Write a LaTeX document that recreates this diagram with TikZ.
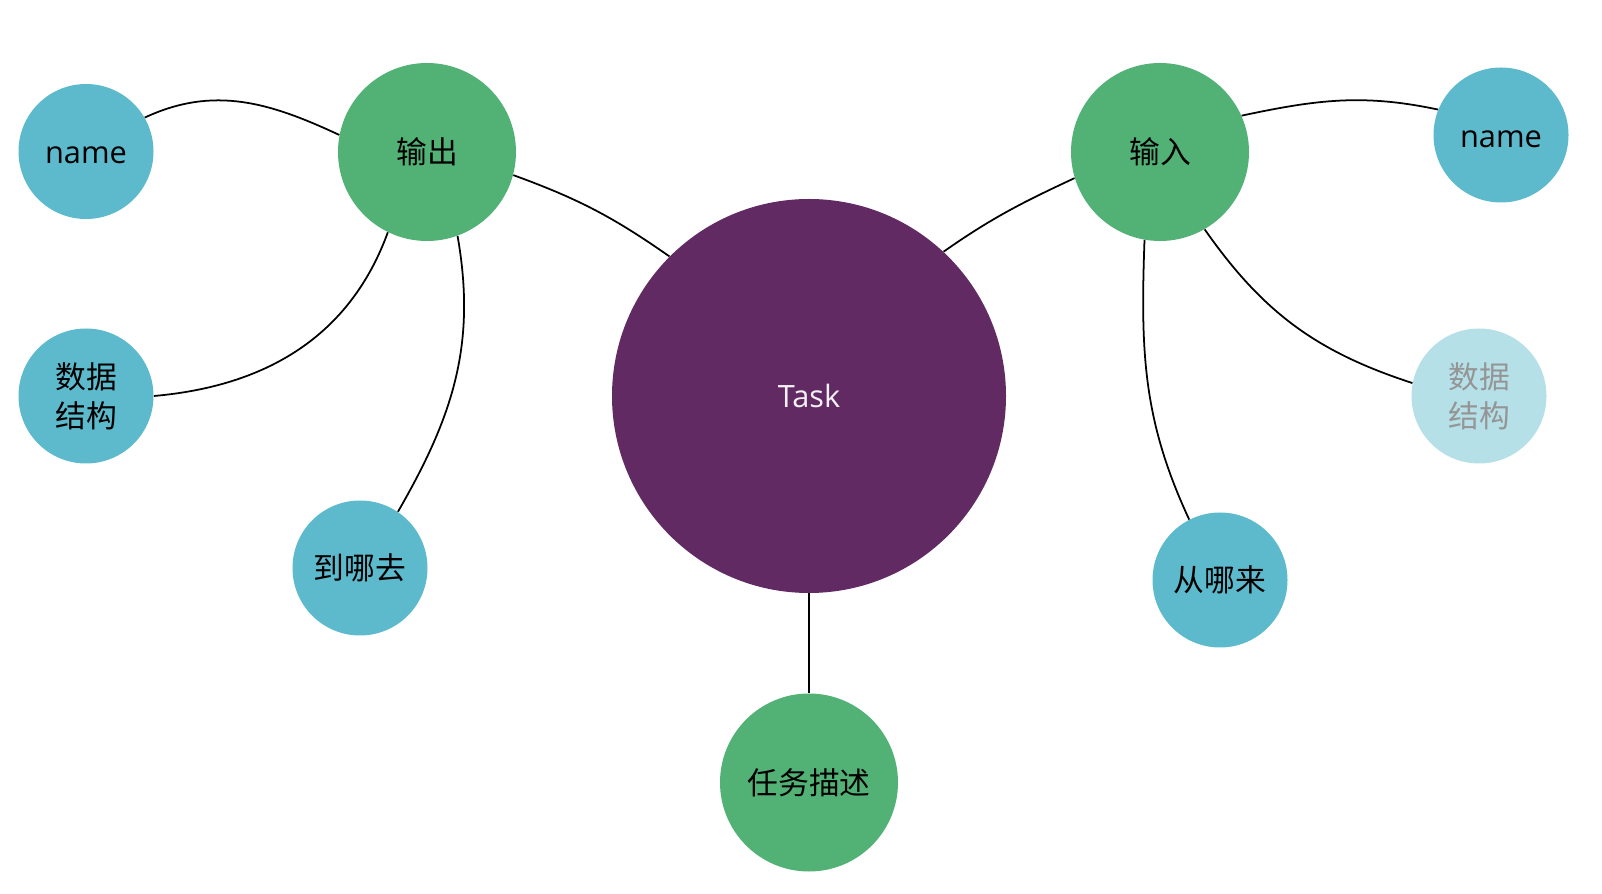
\documentclass[tikz,border=0pt]{standalone}
\usepackage{fontspec}
\setmainfont{Open Sans}
\newfontfamily\cjk{Noto Sans CJK SC}
\usepackage{tikz}
\definecolor{taskP}{HTML}{612A62}
\definecolor{greenN}{HTML}{52B175}
\definecolor{tealN}{HTML}{5CBACC}
\definecolor{tealL}{HTML}{B5E0E7}
\definecolor{greyT}{HTML}{959595}

\begin{document}
\begin{tikzpicture}[
  big/.style={circle, fill=taskP, minimum size=7.88cm, inner sep=0pt, text=white!93!taskP, font=\fontsize{17.5}{22}\selectfont},
  mid/.style={circle, fill=greenN, minimum size=3.56cm, inner sep=0pt, font=\cjk\fontsize{17.5}{22}\selectfont},
  leaf/.style={circle, fill=tealN, minimum size=2.7cm, inner sep=0pt, align=center, font=\cjk\fontsize{17.5}{22}\selectfont},
  nm/.style={leaf, font=\fontsize{17.5}{22}\selectfont, text height=14pt, text depth=0pt},
  ln/.style={line width=1pt},
]
\useasboundingbox (0,0) rectangle (32.04,-17.88);

% Centre and first ring
\node[big] (task) at (16.18,-7.92) {Task};
\node[mid] (out) at (8.54,-3.04) {输出};
\node[mid] (in) at (23.20,-3.04) {输入};
\node[mid] (desc) at (16.18,-15.65) {任务描述};

% Leaves of 输出
\node[nm] (namel) at (1.72,-3.03) {name};
\node[leaf] (dsl) at (1.72,-7.92) {数据\\结构};
\node[leaf] (dest) at (7.20,-11.36) {到哪去};

% Leaves of 输入
\node[nm] (namer) at (30.02,-2.70) {name};
\node[leaf, fill=tealL, text=greyT] (dsr) at (29.58,-7.92) {数据\\结构};
\node[leaf] (src) at (24.40,-11.60) {从哪来};

% Connectors to Task
\draw[ln] (out.-15) to[out=-20,in=145] (task.135);
\draw[ln] (task.47) to[out=35,in=205] (in.197);
\draw[ln] (task) -- (desc);

% 输出 branch
\draw[ln] (out.169) to[out=155,in=25] (namel.30);
\draw[ln] (out.244) to[out=250,in=5] (dsl.0);
\draw[ln] (out.290) to[out=-80,in=60] (dest.56);

% 输入 branch
\draw[ln] (in.24) to[out=12,in=168] (namer.158);
\draw[ln] (in.-60) to[out=-55,in=162] (dsr.169);
\draw[ln] (in.-100) to[out=-92,in=115] (src.117);
\end{tikzpicture}
\end{document}
